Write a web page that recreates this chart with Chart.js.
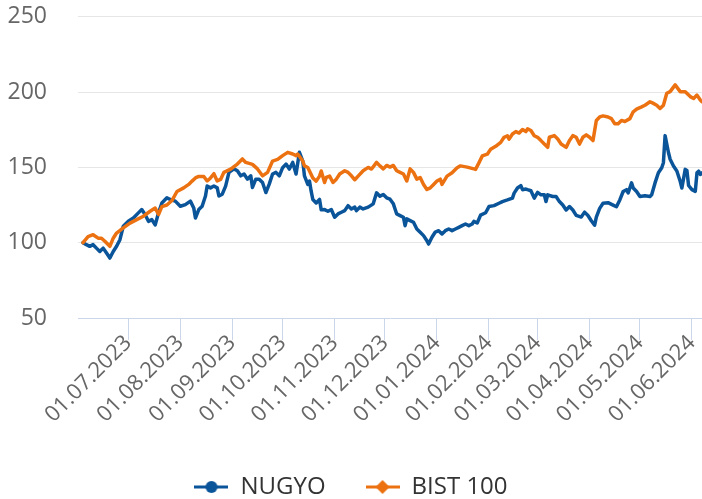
<!DOCTYPE html>
<html><head><meta charset="utf-8">
<script src="https://cdn.jsdelivr.net/npm/chart.js@4.4.1/dist/chart.umd.min.js"></script>
<style>html,body{margin:0;padding:0;background:#fff}#wrap{width:702px;height:499px;position:relative}</style>
</head><body><div id="wrap"><canvas id="c"></canvas></div>
<script>
// Day offsets are counted from this base date (01.07.2023 = day 0)
const BASE_DATE = [2023, 6, 1];
const tickDays = [0, 31, 62, 92, 123, 153, 184, 215, 244, 275, 305, 336];
const tickLabels = ['01.07.2023','01.08.2023','01.09.2023','01.10.2023','01.11.2023','01.12.2023','01.01.2024','01.02.2024','01.03.2024','01.04.2024','01.05.2024','01.06.2024'];
const yTicks = [50, 100, 150, 200, 250];

const seriesNames = ['NUGYO', 'BIST 100'];

const nugyoDays = [-27,-25,-23,-21,-19,-17,-15,-13,-11,-9,-7,-5,-3,0,3,6,8,10,12,14,16,18,20,23,25,28,31,34,37,39,40,42,44,46,47,49,51,53,54,56,58,60,63,65,67,69,71,73,74,76,78,80,82,84,86,88,90,92,94,96,98,100,102,104,105,107,108,109,110,112,114,115,117,119,121,123,125,127,129,131,133,135,136,138,140,143,146,148,150,152,154,156,158,159,160,162,164,165,166,168,170,172,174,176,178,179,181,183,185,187,189,191,193,195,197,199,201,203,205,206,208,210,213,215,218,221,223,226,229,230,232,234,235,237,238,240,242,244,246,248,249,250,253,255,257,259,261,263,265,267,270,272,274,276,278,279,281,283,286,289,291,293,295,297,298,300,301,303,305,308,311,312,314,316,318,319,320,322,323,325,327,329,330,332,333,334,336,338,339,340,341,342];
const nugyoValues = [100,98.7,97.6,98.7,96.4,94.2,96.4,93.1,89.8,94.2,97.6,102,110.9,114.2,116.4,119.8,122,118.7,114.2,115.3,111.8,119.8,126.4,129.8,128.7,127.6,124.2,125.3,127.6,123.1,116.4,122,124.2,131,137.6,136.4,137.6,136.4,131,132.2,137.6,146.7,149,147.8,144.4,145.6,142.2,144.4,136.7,142.2,142.2,140,133.3,138.9,145.6,146.7,144.4,149.8,152.2,148.9,153.3,145.6,160,154.2,144.4,138.7,140.9,134.2,128.7,126.4,128.7,121.8,122,120.9,122,116.9,119.1,120.2,121.3,124.6,122.4,123.6,121.3,123.6,122.4,123.6,125.8,133.1,130.9,132,129.8,128.9,125.8,122.4,119.1,118,116.9,111.3,115.8,114.7,113.6,109.1,106.9,104.7,101.3,99.1,103.6,107.1,108,105.8,108,109.1,108,109.1,110.2,111.3,112.4,111.3,112.4,114.2,113.1,118.3,119.9,124,124.6,126.2,127.3,128.4,129.6,132.9,136.3,137.9,135.2,135.6,135.2,134.5,129.6,133.4,131.8,131.8,127.3,131.8,130.7,130.7,127.3,125,121.7,124,121.7,118.1,117,120.3,118.1,114.6,111.6,117,122.8,126.2,126.6,125,123.9,128.4,134,135.2,133,139.7,136.3,134,130.7,131.2,130.7,131.8,139.7,146.4,149.8,153.1,171.1,159.9,155.4,150.9,147.6,140.8,136.3,148.7,148,138,135.2,134.1,146.4,147.5,145.3,146.4];

const bistDays = [-27,-24,-21,-18,-16,-14,-11,-9,-7,-3,1,5,9,13,16,18,20,23,26,29,33,36,38,40,42,45,47,49,51,53,55,57,61,65,68,70,74,77,80,83,86,89,92,95,98,100,101,104,105,107,108,110,112,114,115,117,118,120,122,124,126,129,131,133,135,137,140,143,145,148,150,152,154,156,158,160,162,164,166,168,170,172,174,176,178,180,182,184,186,187,190,193,196,198,202,206,207,209,211,214,216,219,222,224,226,227,229,231,233,235,237,238,240,242,244,246,248,250,251,254,256,258,261,263,265,267,269,271,273,275,277,279,281,283,286,288,290,292,294,296,299,301,303,306,308,311,313,315,317,319,321,323,326,329,332,335,337,339,341,342];
const bistValues = [100,104,105.3,103,103,101,97.6,103,106.4,109.8,113,115.3,117.6,120.9,123,118.7,124,125,128,134,136.4,138.7,140.9,143,144,144,141,143,145.8,141,142,146.7,148.9,152.2,155.6,153.3,152,149,144.4,146.7,154.2,155.3,157.8,160,158.9,157.8,158.9,154.2,151,149.9,147.6,143,140.9,144.2,147.6,140,143.3,144.2,140,142.2,145.6,147.8,146.7,144.4,141.8,144.2,147.8,150,148.9,153.3,151,149,151.3,150.2,151.3,147.8,146.7,145.6,141,149,146.7,142.2,143.3,138.7,135.3,136.4,138.7,140.9,142.2,138.7,144.2,146.4,149.8,151,150.2,149,148.7,153,157.6,158.8,162,164,166.6,170,171,168.8,172.2,173.8,172.8,175.2,173.8,175.6,174.5,171,170,167.8,165.5,163.3,170,171.1,168.8,165.5,163.3,167.8,171.1,170,165.5,170,171.6,170,167.8,181.2,183.5,184.2,183.5,182.4,179,179,181.2,180.5,182.4,186.9,188.7,190.2,191.3,193.6,192.5,191.3,189.1,191.3,199.2,200.3,204.8,200.3,200.3,197,195.8,198,194.7,193.6];

const COLORS = ['#0a5499', '#ec7211'];
const FONT = '"Open Sans", "DejaVu Sans", sans-serif';

function pairs(days, values) { return days.map((d, i) => ({x: d, y: values[i]})); }

function dayToLabel(d) {
  const idx = tickDays.indexOf(d);
  if (idx >= 0) return tickLabels[idx];
  const dt = new Date(BASE_DATE[0], BASE_DATE[1], BASE_DATE[2] + d);
  const p = n => String(n).padStart(2, '0');
  return p(dt.getDate()) + '.' + p(dt.getMonth() + 1) + '.' + dt.getFullYear();
}

function legendIcon(color, shape) {
  const c = document.createElement('canvas');
  c.width = 34; c.height = 16;
  const g = c.getContext('2d');
  g.strokeStyle = color; g.lineWidth = 3;
  g.beginPath(); g.moveTo(0, 8); g.lineTo(34, 8); g.stroke();
  g.fillStyle = color;
  g.beginPath();
  if (shape === 'circle') { g.arc(17, 8, 6, 0, Math.PI * 2); }
  else { g.moveTo(17, 1); g.lineTo(24, 8); g.lineTo(17, 15); g.lineTo(10, 8); g.closePath(); }
  g.fill();
  return c;
}

// nudges the bottom legend a little lower after Chart.js has laid out the boxes
const legendShift = {
  id: 'legendShift',
  afterLayout(chart) {
    const lg = chart.legend;
    if (lg) { lg.top += 10; lg.bottom += 10; }
  }
};

new Chart(document.getElementById('c'), {
  type: 'line',
  data: {
    datasets: [
      { label: seriesNames[0], data: pairs(nugyoDays, nugyoValues), borderColor: COLORS[0], backgroundColor: COLORS[0],
        borderWidth: 3.5, pointRadius: 0, pointHoverRadius: 0, tension: 0, borderJoinStyle: 'round', borderCapStyle: 'round',
        pointStyle: legendIcon(COLORS[0], 'circle'), order: 1 },
      { label: seriesNames[1], data: pairs(bistDays, bistValues), borderColor: COLORS[1], backgroundColor: COLORS[1],
        borderWidth: 3.5, pointRadius: 0, pointHoverRadius: 0, tension: 0, borderJoinStyle: 'round', borderCapStyle: 'round',
        pointStyle: legendIcon(COLORS[1], 'diamond'), order: 0 }
    ]
  },
  plugins: [legendShift],
  options: {
    responsive: true, maintainAspectRatio: false, animation: false, devicePixelRatio: 1,
    layout: { padding: { top: 0, right: 0, bottom: 0, left: 0 } },
    plugins: {
      tooltip: { enabled: false },
      legend: {
        position: 'bottom',
        labels: {
          usePointStyle: true, pointStyleWidth: 34, padding: 40,
          color: '#333333', font: { family: FONT, size: 24 },
          sort: (a, b) => a.datasetIndex - b.datasetIndex
        }
      }
    },
    scales: {
      x: {
        type: 'linear', min: -30, max: 342,
        afterBuildTicks: s => { s.ticks = tickDays.map(v => ({value: v})); },
        afterFit: s => { s.height = 107; },
        ticks: { autoSkip: false, minRotation: 45, maxRotation: 45, padding: -10, color: '#666666',
                 font: { family: FONT, size: 22 }, callback: v => dayToLabel(v) },
        grid: { drawOnChartArea: false, drawTicks: true, tickLength: 22, color: '#ccd6eb' },
        border: { display: true, color: '#ccd6eb', width: 1 }
      },
      y: {
        min: 50, max: 250,
        afterBuildTicks: s => { s.ticks = yTicks.map(v => ({value: v})); },
        afterFit: s => { s.width = 78; },
        ticks: { padding: 3, color: '#666666', font: { family: FONT, size: 23 } },
        grid: { drawTicks: true, tickLength: 28, tickColor: 'rgba(0,0,0,0)',
                color: c => (c.tick && c.tick.value === 50) ? 'rgba(0,0,0,0)' : '#e6e6e6', lineWidth: 1 },
        border: { display: false }
      }
    }
  }
});
</script></body></html>
